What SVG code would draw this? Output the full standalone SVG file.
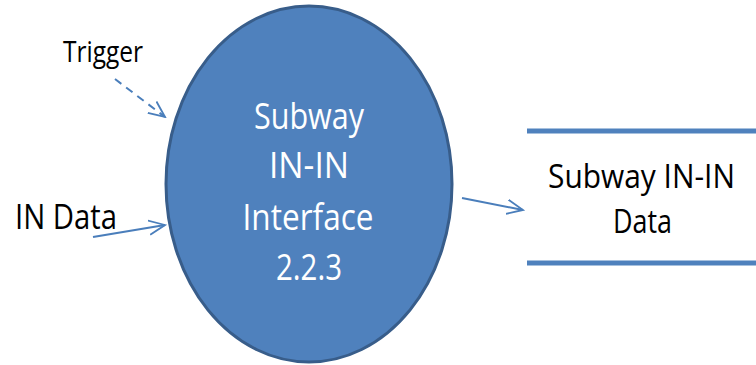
<svg xmlns="http://www.w3.org/2000/svg" width="756" height="365" viewBox="0 0 756 365">
<style>
.lbl{font-family:"Open Sans","Liberation Sans",sans-serif;fill:#000}
.wt{font-family:"Open Sans","Liberation Sans",sans-serif;fill:#fff;font-size:36px;text-anchor:middle}
.conn{stroke:#4a7ebb;stroke-width:2;fill:none}
.store{stroke:#4f81bd;stroke-width:5}
</style>
<defs>
<marker id="arr2" viewBox="0 0 10 10" refX="9" refY="5" markerWidth="18" markerHeight="18" markerUnits="userSpaceOnUse" orient="auto">
<path d="M0,1 L9,5 L0,9" fill="none" stroke="#4a7ebb" stroke-width="1"/>
</marker>
</defs>
<rect width="756" height="365" fill="#fff"/>
<g id="process">
<ellipse cx="309" cy="184" rx="143" ry="178" fill="#4f81bd" stroke="#385d8a" stroke-width="3"/>
<text class="wt" x="309" y="129" textLength="110" lengthAdjust="spacingAndGlyphs">Subway</text>
<text class="wt" x="309" y="178" textLength="80" lengthAdjust="spacingAndGlyphs">IN-IN</text>
<text class="wt" x="308" y="230" textLength="131" lengthAdjust="spacingAndGlyphs">Interface</text>
<text class="wt" x="309" y="280" textLength="66" lengthAdjust="spacingAndGlyphs">2.2.3</text>
</g>
<g id="trigger">
<text class="lbl" x="63" y="62" font-size="30" textLength="80" lengthAdjust="spacingAndGlyphs">Trigger</text>
</g>
<g id="indata">
<text class="lbl" x="15" y="229" font-size="35" textLength="102" lengthAdjust="spacingAndGlyphs">IN Data</text>
</g>
<g id="datastore">
<line class="store" x1="527" y1="131" x2="756" y2="131"/>
<line class="store" x1="527" y1="263" x2="756" y2="263"/>
<text class="lbl" x="548" y="188" font-size="32" textLength="187" lengthAdjust="spacingAndGlyphs">Subway IN-IN</text>
<text class="lbl" x="613" y="233" font-size="33" textLength="59" lengthAdjust="spacingAndGlyphs">Data</text>
</g>
<g id="connectors">
<line class="conn" x1="115" y1="79" x2="165" y2="117" stroke-dasharray="8,6" marker-end="url(#arr2)"/>
<line class="conn" x1="93" y1="237" x2="165" y2="225" marker-end="url(#arr2)"/>
<line class="conn" x1="462" y1="198" x2="523" y2="210" marker-end="url(#arr2)"/>
</g>
</svg>
